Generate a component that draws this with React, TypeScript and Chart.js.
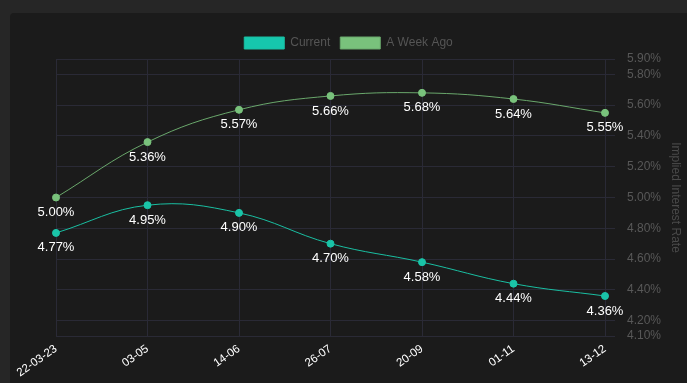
import React, { useEffect, useRef } from "react";
import { Chart, registerables } from "chart.js";

Chart.register(...registerables);

const categories = ["22-03-23", "03-05", "14-06", "26-07", "20-09", "01-11", "13-12"];
const currentValues = [4.77, 4.95, 4.9, 4.7, 4.58, 4.44, 4.36];
const weekAgoValues = [5.0, 5.36, 5.57, 5.66, 5.68, 5.64, 5.55];
const seriesNames = ["Current", "A Week Ago"];
const axisTitle = "Implied Interest Rate";
const yMin = 4.1;
const yMax = 5.9;
const yTickValues = [4.1, 4.2, 4.4, 4.6, 4.8, 5.0, 5.2, 5.4, 5.6, 5.8, 5.9];

const FONT = "Helvetica Neue, Helvetica, Arial, sans-serif";

const dataLabelPlugin = {
  id: "pointLabels",
  afterDatasetsDraw(chart: any) {
    const ctx = chart.ctx;
    ctx.save();
    ctx.font = `13px ${FONT}`;
    ctx.fillStyle = "#ffffff";
    ctx.textAlign = "center";
    ctx.textBaseline = "middle";
    chart.data.datasets.forEach((ds: any, i: number) => {
      const meta = chart.getDatasetMeta(i);
      if (meta.hidden) return;
      meta.data.forEach((pt: any, j: number) => {
        const v = ds.data[j];
        ctx.fillText(v.toFixed(2) + "%", pt.x, pt.y + 15);
      });
    });
    ctx.restore();
  },
};

export default function App() {
  const ref = useRef<HTMLCanvasElement>(null);
  useEffect(() => {
    if (!ref.current) return;
    const chart = new Chart(ref.current, {
      type: "line",
      data: {
        labels: categories,
        datasets: [
          {
            label: seriesNames[0],
            data: currentValues,
            borderColor: "#1abfa2",
            backgroundColor: "#16c7ad",
            pointBackgroundColor: "#1ac4a8",
            pointBorderColor: "#1ac4a8",
            borderWidth: 1,
            pointRadius: 3.5,
            tension: 0.4,
          },
          {
            label: seriesNames[1],
            data: weekAgoValues,
            borderColor: "#6aa86c",
            backgroundColor: "#79c27c",
            pointBackgroundColor: "#79c27c",
            pointBorderColor: "#79c27c",
            borderWidth: 1,
            pointRadius: 3.5,
            tension: 0.4,
          },
        ],
      },
      options: {
        responsive: false,
        animation: false,
        layout: { padding: { top: 14, right: 0, bottom: 0, left: 0 } },
        plugins: {
          legend: {
            display: true,
            position: "top",
            labels: {
              color: "#555555",
              font: { size: 12, family: FONT },
              boxWidth: 40,
              boxHeight: 12,
            },
          },
          tooltip: { enabled: false },
        },
        scales: {
          x: {
            grid: { color: "#2a2a36", tickLength: 0 },
            border: { color: "#2a2a36" },
            ticks: {
              color: "#ffffff",
              font: { size: 11.5, family: FONT },
              minRotation: 35,
              maxRotation: 35,
              padding: 6,
            },
            afterFit: (axis: any) => {
              axis.height = 47;
              axis.paddingLeft = 46;
              axis.paddingRight = 0;
            },
          },
          y: {
            position: "right",
            min: yMin,
            max: yMax,
            afterBuildTicks: (axis: any) => {
              axis.ticks = yTickValues.map((v) => ({ value: v }));
            },
            afterFit: (axis: any) => {
              axis.width = 82;
            },
            grid: { color: "#2a2a36", tickLength: 10 },
            border: { color: "#2a2a36" },
            ticks: {
              color: "#585858",
              font: { size: 12, family: FONT },
              padding: 12,
              callback: (v: any) => Number(v).toFixed(2) + "%",
            },
            title: {
              display: true,
              text: axisTitle,
              color: "#4a4a4a",
              font: { size: 12, family: FONT },
              padding: { top: 4, bottom: 4 },
            },
          },
        },
      },
      plugins: [dataLabelPlugin],
    });
    return () => chart.destroy();
  }, []);

  return (
    <div style={{ position: "fixed", inset: 0, background: "#262626", overflow: "hidden" }}>
      <div
        style={{
          position: "absolute",
          left: 10,
          top: 13,
          right: -10,
          bottom: -10,
          background: "#1b1b1b",
          borderRadius: 4,
        }}
      >
        <canvas ref={ref} width={677} height={370} style={{ display: "block" }} />
      </div>
    </div>
  );
}
